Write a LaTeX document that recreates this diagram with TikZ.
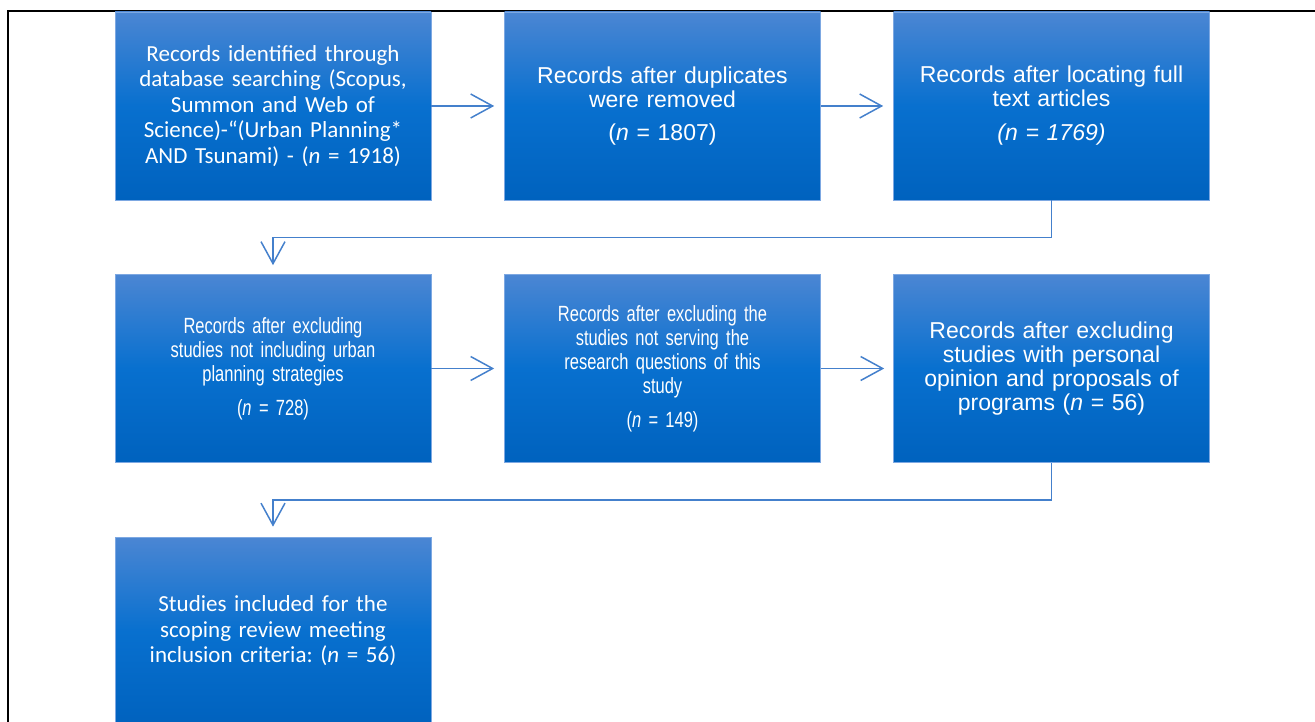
\documentclass[tikz,border=0pt]{standalone}
\usepackage{fontspec}
\usepackage{tikz}
\usetikzlibrary{arrows.meta, calc, positioning}
\newfontfamily\calibrifont{Carlito}
\newfontfamily\arialfont{Liberation Sans}
\newfontfamily\narrowfont[FakeStretch=0.75]{Liberation Sans}
\definecolor{boxTop}{RGB}{75,134,211}
\definecolor{boxMid}{RGB}{8,112,207}
\definecolor{boxBot}{RGB}{0,98,190}
\definecolor{boxEdge}{RGB}{125,168,226}
\definecolor{lineBlue}{RGB}{68,128,204}
\newcommand{\flowArrow}{{Straight Barb[length=22pt, width=24pt]}}
\newcommand{\calibriText}{\calibrifont\fontsize{23}{25.6}\selectfont}
\newcommand{\arialText}{\arialfont\fontsize{23}{24}\selectfont}
\newcommand{\narrowText}{\narrowfont\fontsize{22}{24}\selectfont}
\frenchspacing

\begin{document}
\begin{tikzpicture}[x=1pt, y=-1pt,
	flowbox/.style={rectangle, minimum width=316pt, minimum height=188pt, inner sep=0pt, text width=310pt, align=center, text=white, top color=boxTop, bottom color=boxBot, middle color=boxMid, draw=boxEdge, line width=0.6pt},
	flowline/.style={draw=lineBlue, line width=1.5pt}]
	\useasboundingbox (0,0) rectangle (1315,722);
	\coordinate (frameCorner) at (8,11);
	\draw[line width=1.5pt]	(8,722) -- (frameCorner) -- (1315,11);
	
	% first row
	\node[flowbox, font=\calibriText] (ident) at (273,106) {Records identified through\\ database searching (Scopus,\\ Summon and Web of\\ Science)-“(Urban Planning*\\ AND Tsunami) - (\textit{n} = 1918)};
	\node[flowbox, font=\arialText] (dedup) at (662.5,106) {Records after duplicates\\ were removed\\[9pt] (\textit{n} = 1807)};
	\node[flowbox, font=\arialText] (fulltext) at (1051.5,106) {Records after locating full\\ text articles\\[10pt] \textit{(n = 1769)}};
	
	% second row
	\node[flowbox, font=\narrowText] (urban) at (273,368.5) {Records after excluding\\ studies not including urban\\ planning strategies\\[10pt] (\textit{n} = 728)};
	\node[flowbox, font=\narrowText] (questions) at (662.5,368.5) {Records after excluding the\\ studies not serving the\\ research questions of this\\ study\\[10pt] (\textit{n} = 149)};
	\node[flowbox, font=\arialText] (opinion) at (1051.5,368.5) {Records after excluding\\ studies with personal\\ opinion and proposals of\\ programs (\textit{n} = 56)};
	
	% third row
	\node[flowbox, font=\calibriText] (included) at (273,631) {Studies included for the\\ scoping review meeting\\ inclusion criteria: (\textit{n} = 56)};
	
	\draw[flowline, -\flowArrow]	(ident.east) -- ($(dedup.west)-(10,0)$);
	\draw[flowline, -\flowArrow]	(dedup.east) -- ($(fulltext.west)-(10,0)$);
	\draw[flowline, -\flowArrow]	(fulltext.south) --++ (0,37) -| ($(urban.north)-(0,9)$);
	\draw[flowline, -\flowArrow]	(urban.east) -- ($(questions.west)-(10,0)$);
	\draw[flowline, -\flowArrow]	(questions.east) -- ($(opinion.west)-(9,0)$);
	\draw[flowline, -\flowArrow]	(opinion.south) --++ (0,37) -| ($(included.north)-(0,10)$);

\end{tikzpicture}
\end{document}
